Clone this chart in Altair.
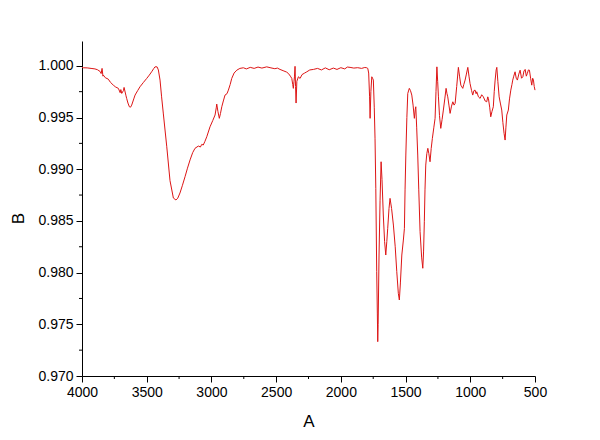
import altair as alt
import pandas as pd

# Wavenumber (A) and transmittance (B)
wavenumber = [
    4000, 3990, 3960, 3930, 3900, 3880, 3860, 3852, 3845, 3838, 3835, 3820, 3797, 3780,
    3758, 3740, 3719, 3705, 3700, 3693, 3680, 3675, 3660, 3655, 3645, 3634, 3625, 3616,
    3600, 3590, 3570, 3552, 3525, 3500, 3480, 3462, 3445, 3436, 3420, 3410, 3397, 3385,
    3372, 3345, 3320, 3294, 3274, 3260, 3243, 3225, 3204, 3185, 3165, 3145, 3127, 3101,
    3085, 3075, 3063, 3050, 3036, 3011, 2990, 2972, 2962, 2959, 2950, 2939, 2930, 2920,
    2908, 2895, 2880, 2869, 2855, 2843, 2825, 2804, 2780, 2753, 2730, 2700, 2670, 2640,
    2610, 2573, 2540, 2510, 2490, 2470, 2440, 2420, 2406, 2390, 2379, 2372, 2367, 2362,
    2358, 2354, 2350, 2346, 2340, 2328, 2315, 2300, 2280, 2263, 2240, 2212, 2180, 2150,
    2120, 2090, 2058, 2030, 2000, 1970, 1950, 1929, 1900, 1870, 1840, 1815, 1800, 1792,
    1785, 1778, 1774, 1768, 1761, 1755, 1749, 1742, 1736, 1730, 1723, 1718, 1715, 1712,
    1705, 1697, 1689, 1682, 1672, 1662, 1653, 1645, 1638, 1628, 1620, 1608, 1594, 1580,
    1568, 1556, 1548, 1540, 1529, 1517, 1509, 1504, 1498, 1490, 1483, 1471, 1462, 1452,
    1442, 1432, 1425, 1421, 1414, 1406, 1398, 1388, 1376, 1367, 1361, 1355, 1350, 1344,
    1336, 1328, 1320, 1311, 1302, 1293, 1282, 1272, 1265, 1258, 1252, 1246, 1238, 1228,
    1218, 1208, 1197, 1187, 1180, 1174, 1165, 1156, 1145, 1135, 1125, 1117, 1105, 1092,
    1083, 1073, 1058, 1050, 1040, 1030, 1019, 1010, 1002, 990, 981, 972, 963, 955,
    950, 937, 924, 912, 899, 885, 873, 865, 860, 850, 842, 832, 822, 815,
    808, 800, 795, 787, 777, 768, 757, 748, 739, 731, 725, 718, 706, 697,
    687, 678, 672, 664, 654, 645, 636, 625, 615, 604, 594, 585, 576, 567,
    559, 551, 543, 534, 525, 518, 512, 506, 500,
]
transmittance = [
    0.99985, 0.99981, 0.99980, 0.99975, 0.99970, 0.99962, 0.99945, 0.99925, 0.99975, 0.99900, 0.99910, 0.99885, 0.99871, 0.99840,
    0.99813, 0.99795, 0.99782, 0.99740, 0.99770, 0.99733, 0.99760, 0.99791, 0.99710, 0.99685, 0.99640, 0.99604, 0.99600, 0.99620,
    0.99680, 0.99717, 0.99760, 0.99797, 0.99840, 0.99878, 0.99910, 0.99942, 0.99975, 0.99990, 0.99990, 0.99960, 0.99862, 0.99700,
    0.99543, 0.99217, 0.98889, 0.98721, 0.98702, 0.98720, 0.98770, 0.98840, 0.98927, 0.99010, 0.99090, 0.99160, 0.99202, 0.99224,
    0.99215, 0.99240, 0.99234, 0.99270, 0.99314, 0.99410, 0.99470, 0.99524, 0.99600, 0.99630, 0.99560, 0.99492, 0.99540, 0.99604,
    0.99660, 0.99717, 0.99730, 0.99765, 0.99820, 0.99878, 0.99930, 0.99958, 0.99975, 0.99981, 0.99970, 0.99985, 0.99975, 0.99988,
    0.99978, 0.99990, 0.99980, 0.99972, 0.99978, 0.99965, 0.99950, 0.99940, 0.99927, 0.99900, 0.99878, 0.99820, 0.99782, 0.99850,
    0.99900, 0.99995, 0.99800, 0.99640, 0.99850, 0.99894, 0.99878, 0.99915, 0.99930, 0.99942, 0.99960, 0.99965, 0.99975, 0.99960,
    0.99980, 0.99962, 0.99978, 0.99965, 0.99982, 0.99970, 0.99988, 0.99985, 0.99978, 0.99982, 0.99975, 0.99984, 0.99981, 0.99975,
    0.99930, 0.99700, 0.99492, 0.99750, 0.99894, 0.99880, 0.99862, 0.99600, 0.99300, 0.98815, 0.98009, 0.97600, 0.97332, 0.97500,
    0.98170, 0.98700, 0.99072, 0.98900, 0.98557, 0.98300, 0.98170, 0.98300, 0.98428, 0.98620, 0.98718, 0.98620, 0.98460, 0.98250,
    0.98009, 0.97800, 0.97735, 0.97900, 0.98170, 0.98315, 0.98428, 0.98800, 0.99137, 0.99500, 0.99733, 0.99782, 0.99760, 0.99717,
    0.99620, 0.99492, 0.99580, 0.99604, 0.99400, 0.99137, 0.98800, 0.98396, 0.98150, 0.98042, 0.98200, 0.98492, 0.98800, 0.99040,
    0.99150, 0.99202, 0.99150, 0.99072, 0.99200, 0.99298, 0.99400, 0.99492, 0.99750, 0.99990, 0.99850, 0.99700, 0.99520, 0.99395,
    0.99480, 0.99572, 0.99680, 0.99782, 0.99730, 0.99700, 0.99620, 0.99540, 0.99610, 0.99652, 0.99620, 0.99637, 0.99800, 0.99985,
    0.99900, 0.99813, 0.99782, 0.99820, 0.99862, 0.99920, 0.99985, 0.99900, 0.99830, 0.99760, 0.99717, 0.99760, 0.99765, 0.99730,
    0.99749, 0.99700, 0.99685, 0.99720, 0.99700, 0.99660, 0.99652, 0.99700, 0.99685, 0.99600, 0.99507, 0.99560, 0.99604, 0.99750,
    0.99862, 0.99960, 0.99985, 0.99850, 0.99700, 0.99640, 0.99572, 0.99450, 0.99347, 0.99282, 0.99400, 0.99524, 0.99572, 0.99680,
    0.99765, 0.99820, 0.99862, 0.99900, 0.99942, 0.99880, 0.99862, 0.99920, 0.99958, 0.99880, 0.99894, 0.99950, 0.99965, 0.99900,
    0.99927, 0.99960, 0.99958, 0.99880, 0.99813, 0.99880, 0.99862, 0.99800, 0.99765,
]

x_major = [4000, 3500, 3000, 2500, 2000, 1500, 1000, 500]
x_minor = [3750, 3250, 2750, 2250, 1750, 1250, 750]
y_major = [0.970, 0.975, 0.980, 0.985, 0.990, 0.995, 1.000]
y_minor = [0.9725, 0.9775, 0.9825, 0.9875, 0.9925, 0.9975]

W, H = 453, 335
FONT = "Liberation Sans"

df = pd.DataFrame({"A": wavenumber, "B": transmittance})
xscale = alt.Scale(domain=[500, 4000], reverse=True, nice=False, zero=False)
yscale = alt.Scale(domain=[0.970, 1.0024], nice=False, zero=False)

xaxis = alt.Axis(values=x_major, format="d", titleY=50, titleBaseline="alphabetic")
yaxis = alt.Axis(values=y_major, format=".3f", titleX=-59, titleY=177,
                 titleBaseline="alphabetic", titleAngle=-90, titleAlign="center")

line = alt.Chart(df).mark_line(color="#dd1515", strokeWidth=1).encode(
    x=alt.X("A:Q", scale=xscale, title="A", axis=xaxis),
    y=alt.Y("B:Q", scale=yscale, title="B", axis=yaxis),
)

xmin = alt.Chart(pd.DataFrame({"A": x_minor})).mark_rule(color="black", strokeWidth=1).encode(
    x=alt.X("A:Q", scale=xscale, title="A", axis=xaxis),
    y=alt.value(H),
    y2=alt.value(H + 3),
)
ymin = alt.Chart(pd.DataFrame({"B": y_minor})).mark_rule(color="black", strokeWidth=1).encode(
    y=alt.Y("B:Q", scale=yscale, title="B", axis=yaxis),
    x=alt.value(0),
    x2=alt.value(-3),
)

chart = alt.layer(line, xmin, ymin).properties(
    width=W, height=H,
    autosize=alt.AutoSizeParams(type="none"),
    padding={"left": 74, "top": 33, "right": 50, "bottom": 60},
    background="white",
).configure_view(stroke=None).configure_axis(
    grid=False,
    domainColor="black", domainWidth=1,
    tickColor="black", tickWidth=1, tickSize=6,
    labelColor="black", labelFont=FONT, labelFontSize=14, labelPadding=3,
    labelFlush=False, labelOverlap=False,
    titleColor="black", titleFont=FONT, titleFontSize=17, titleFontWeight="normal",
)

chart.save("out.html", embed_options={"renderer": "svg", "actions": False})
